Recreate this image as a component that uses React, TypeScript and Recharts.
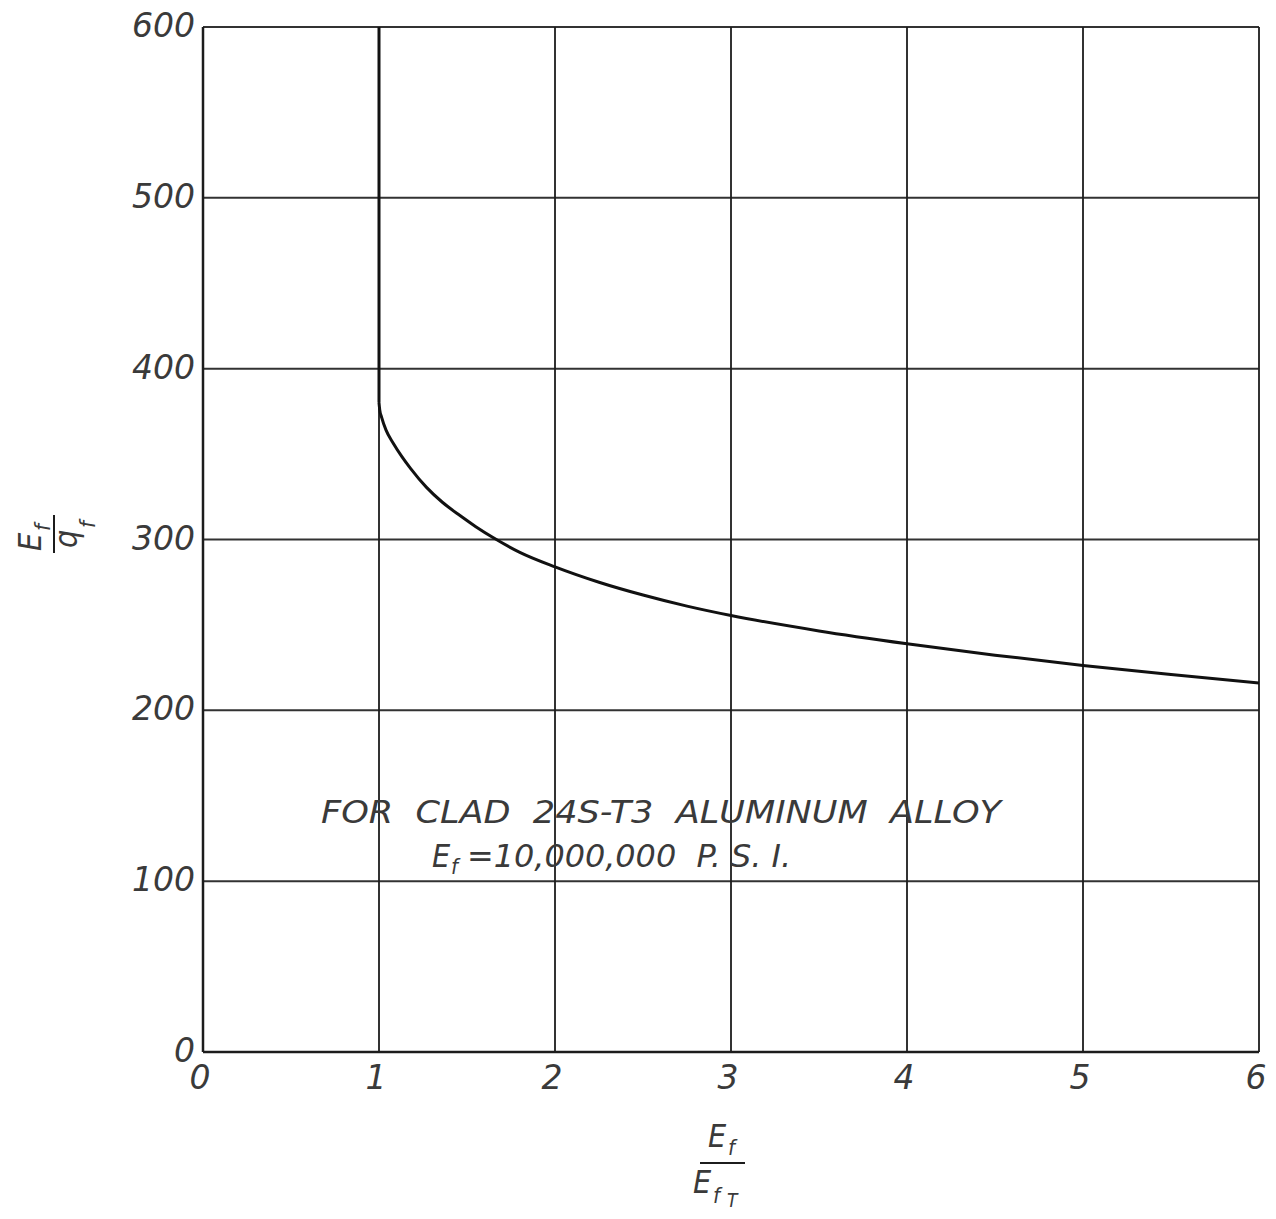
import React from 'react';
import { LineChart, Line, XAxis, YAxis, CartesianGrid, Label } from 'recharts';

// ---- data ----
const xTicks = [0, 1, 2, 3, 4, 5, 6];
const yTicks = [0, 100, 200, 300, 400, 500, 600];

// vertical part of the curve at Ef/EfT = 1
const verticalX = [1, 1];
const verticalY = [600, 380];

// curved part
const curveX = [1.0, 1.004, 1.015, 1.04, 1.08, 1.13, 1.18, 1.27, 1.36, 1.46, 1.55, 1.65, 1.8, 2.0, 2.25, 2.5, 2.75, 3.0, 3.5, 4.0, 4.5, 5.0, 5.5, 6.0];
const curveY = [380, 376, 371.5, 364, 356.5, 348.5, 341.5, 330.5, 321.8, 314, 307.5, 301, 292.5, 284, 275, 267.5, 261, 255.5, 246.5, 239, 232.3, 226.3, 221, 216];

const noteLine1 = 'FOR  CLAD  24S-T3  ALUMINUM  ALLOY';
const noteLine2 = '=10,000,000  P. S. I.';

const verticalData = verticalX.map((x, i) => ({ x, y: verticalY[i] }));
const curveData = curveX.map((x, i) => ({ x, y: curveY[i] }));

const FONT = "'DejaVu Sans', sans-serif";
const FONT_C = "'DejaVu Sans Condensed', 'DejaVu Sans', sans-serif";
const INK = '#1c1c1c';
const TEXT = '#3a3a3a';

const W = 1276;
const H = 1219;

const XTick = (props: any) => {
  const { x, y, payload } = props;
  return (
    <text x={x - 3} y={y + 37} textAnchor="middle" fontFamily={FONT} fontStyle="italic" fontSize={33} fill={TEXT}>
      {payload.value}
    </text>
  );
};

const YTick = (props: any) => {
  const { x, y, payload } = props;
  return (
    <text x={x} y={y + 10} textAnchor="end" fontFamily={FONT} fontStyle="italic" fontSize={33} fill={TEXT}>
      {payload.value}
    </text>
  );
};

const XLabel = (props: any) => {
  const vb = props.viewBox || { x: 203, y: 1052, width: 1056, height: 30 };
  const bx = vb.x + vb.width / 2;
  const by = vb.y;
  const common = { fontFamily: FONT_C, fontStyle: 'italic' as const, fill: TEXT };
  return (
    <g>
      <text x={bx - 23} y={by + 95} fontSize={32} {...common}>E</text>
      <text x={bx - 3} y={by + 103} fontSize={22} {...common}>f</text>
      <line x1={bx - 31} x2={bx + 14} y1={by + 111} y2={by + 111} stroke={INK} strokeWidth={2} />
      <text x={bx - 38} y={by + 141} fontSize={32} {...common}>E</text>
      <text x={bx - 18} y={by + 151} fontSize={22} {...common}>f</text>
      <text x={bx - 4} y={by + 155} fontSize={19} {...common}>T</text>
    </g>
  );
};

const YLabel = (props: any) => {
  const vb = props.viewBox || { x: 143, y: 27, width: 60, height: 1025 };
  const cx = vb.x - 88;
  const cy = vb.y + 506;
  const common = { fontFamily: FONT_C, fontStyle: 'italic' as const, fill: TEXT };
  return (
    <g transform={`rotate(-90, ${cx}, ${cy})`}>
      <text x={cx - 18} y={cy - 14} fontSize={32} {...common}>E</text>
      <text x={cx + 2} y={cy - 5} fontSize={22} {...common}>f</text>
      <line x1={cx - 20} x2={cx + 18} y1={cy - 1} y2={cy - 1} stroke={INK} strokeWidth={2} />
      <text x={cx - 15} y={cy + 22} fontSize={32} {...common}>q</text>
      <text x={cx + 5} y={cy + 40} fontSize={22} {...common}>f</text>
    </g>
  );
};

export default function App() {
  return (
    <div style={{ position: 'relative', width: W, height: H, margin: '-8px 0 0 -8px', background: '#fff' }}>
      <LineChart
        width={W}
        height={H}
        margin={{ top: 27, right: 17, bottom: 137, left: 143 }}
      >
        <CartesianGrid stroke={INK} strokeWidth={2} strokeOpacity={0.9} />
        <XAxis
          type="number"
          dataKey="x"
          domain={[0, 6]}
          ticks={xTicks}
          allowDataOverflow
          tickLine={false}
          tickSize={0}
          tickMargin={0}
          height={30}
          axisLine={{ stroke: INK, strokeWidth: 2.5 }}
          tick={XTick}
        >
          <Label content={XLabel} />
        </XAxis>
        <YAxis
          type="number"
          dataKey="y"
          domain={[0, 600]}
          ticks={yTicks}
          allowDataOverflow
          tickLine={false}
          tickSize={0}
          tickMargin={8}
          width={60}
          axisLine={{ stroke: INK, strokeWidth: 2.5 }}
          tick={YTick}
        >
          <Label content={YLabel} />
        </YAxis>
        <Line
          data={verticalData}
          dataKey="y"
          type="linear"
          stroke="#111"
          strokeWidth={3}
          dot={false}
          isAnimationActive={false}
        />
        <Line
          data={curveData}
          dataKey="y"
          type="monotone"
          stroke="#111"
          strokeWidth={3}
          dot={false}
          isAnimationActive={false}
        />
      </LineChart>
      <svg
        width={W}
        height={H}
        style={{ position: 'absolute', left: 0, top: 0, pointerEvents: 'none' }}
      >
        <text
          x={321}
          y={823}
          fontFamily={FONT_C}
          fontStyle="italic"
          fontSize={32}
          fill={TEXT}
          textLength={680}
          lengthAdjust="spacingAndGlyphs"
          style={{ whiteSpace: 'pre' }}
        >
          {noteLine1}
        </text>
        <text x={432} y={867} fontFamily={FONT_C} fontStyle="italic" fontSize={32} fill={TEXT}>E</text>
        <text x={451} y={874} fontFamily={FONT_C} fontStyle="italic" fontSize={22} fill={TEXT}>f</text>
        <text
          x={467}
          y={867}
          fontFamily={FONT_C}
          fontStyle="italic"
          fontSize={32}
          fill={TEXT}
          textLength={324}
          lengthAdjust="spacingAndGlyphs"
          style={{ whiteSpace: 'pre' }}
        >
          {noteLine2}
        </text>
      </svg>
    </div>
  );
}
